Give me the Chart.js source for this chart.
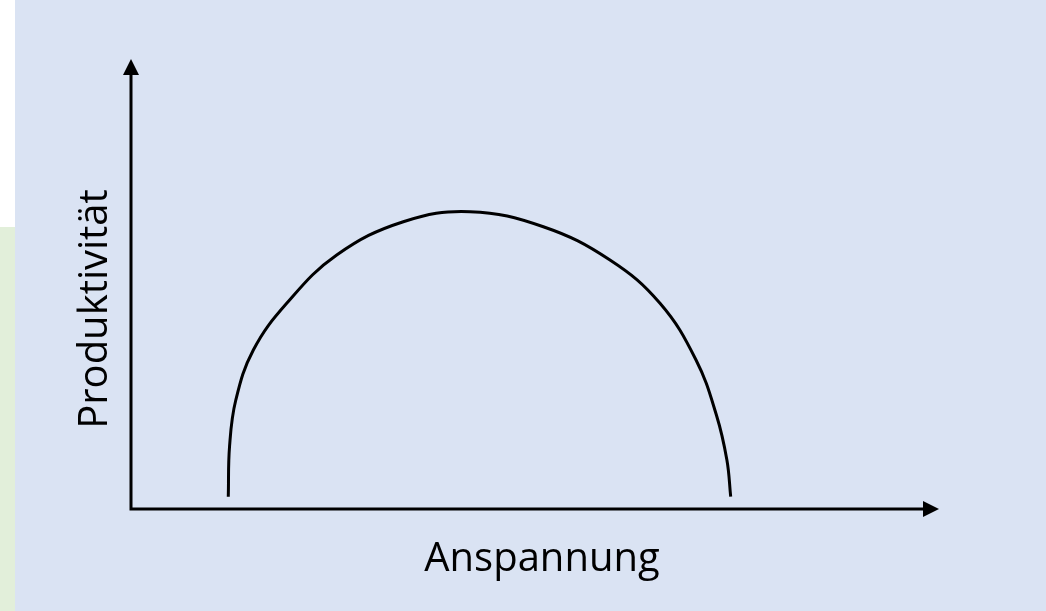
<!DOCTYPE html>
<html>
<head>
<meta charset="utf-8">
<script src="https://cdn.jsdelivr.net/npm/chart.js@4/dist/chart.umd.min.js"></script>
<style>
  html, body { margin: 0; padding: 0; background: #ffffff; }
  #wrap { width: 1046px; height: 611px; }
</style>
</head>
<body>
<div id="wrap"><canvas id="chart"></canvas></div>
<script>
// Anspannung (x) vs. Produktivität (y)
const anspannung = [12.04, 12.2, 12.97, 15.14, 19.27, 25.46, 33.7, 41.96, 51.03, 59.28, 65.47, 69.93, 72.45, 73.75, 74.22];
const produktivitaet = [2.73, 14.0, 24.22, 35.33, 45.71, 56.44, 63.84, 66.07, 62.73, 55.33, 45.71, 33.11, 20.89, 10.89, 2.73];
const xTitle = "Anspannung";
const yTitle = "Produktivität";

const points = anspannung.map((x, i) => ({ x: x, y: produktivitaet[i] }));

const backgroundPlugin = {
  id: "slideBackground",
  beforeDraw: (chart) => {
    const ctx = chart.ctx;
    ctx.save();
    ctx.fillStyle = "#dae3f3";
    ctx.fillRect(15, 0, chart.width - 15, chart.height);
    ctx.fillStyle = "#ffffff";
    ctx.fillRect(0, 0, 15, 227);
    ctx.fillStyle = "#e2efda";
    ctx.fillRect(0, 227, 15, chart.height - 227);
    ctx.restore();
  },
};

// arrow axes + titles, placed from the chart's own scales
const axesPlugin = {
  id: "arrowAxes",
  afterDatasetsDraw: (chart) => {
    const ctx = chart.ctx;
    const xs = chart.scales.x;
    const ys = chart.scales.y;
    const x0 = xs.getPixelForValue(0);
    const x1 = xs.getPixelForValue(100);
    const y0 = ys.getPixelForValue(0);
    const y1 = ys.getPixelForValue(100);
    const head = 16;

    ctx.save();
    ctx.strokeStyle = "#000";
    ctx.fillStyle = "#000";
    ctx.lineWidth = 3;
    ctx.lineCap = "butt";

    ctx.beginPath();
    ctx.moveTo(x0, y0 + 1.5);
    ctx.lineTo(x0, y1 + head);
    ctx.moveTo(x0 - 1.5, y0);
    ctx.lineTo(x1 - head, y0);
    ctx.stroke();

    ctx.beginPath();
    ctx.moveTo(x0, y1);
    ctx.lineTo(x0 - 8, y1 + head);
    ctx.lineTo(x0 + 8, y1 + head);
    ctx.closePath();
    ctx.fill();

    ctx.beginPath();
    ctx.moveTo(x1, y0);
    ctx.lineTo(x1 - head, y0 - 8);
    ctx.lineTo(x1 - head, y0 + 8);
    ctx.closePath();
    ctx.fill();

    ctx.font = "40px 'Open Sans'";
    ctx.textAlign = "center";
    ctx.textBaseline = "alphabetic";
    ctx.fillText(xTitle, (x0 + x1) / 2 + 7, y0 + 62);

    ctx.translate(x0 - 24, (y0 + y1) / 2 + 25);
    ctx.rotate(-Math.PI / 2);
    ctx.fillText(yTitle, 0, 0);
    ctx.restore();
  },
};

new Chart(document.getElementById("chart"), {
  type: "line",
  data: {
    datasets: [
      {
        data: points,
        borderColor: "#000000",
        borderWidth: 3,
        pointRadius: 0,
        fill: false,
        tension: 0.4,
      },
    ],
  },
  options: {
    responsive: true,
    maintainAspectRatio: false,
    animation: false,
    layout: {
      padding: { left: 131, right: 107, top: 59, bottom: 102 },
    },
    plugins: {
      legend: { display: false },
      tooltip: { enabled: false },
    },
    scales: {
      x: { type: "linear", min: 0, max: 100, display: false },
      y: { type: "linear", min: 0, max: 100, display: false },
    },
  },
  plugins: [backgroundPlugin, axesPlugin],
});
</script>
</body>
</html>
